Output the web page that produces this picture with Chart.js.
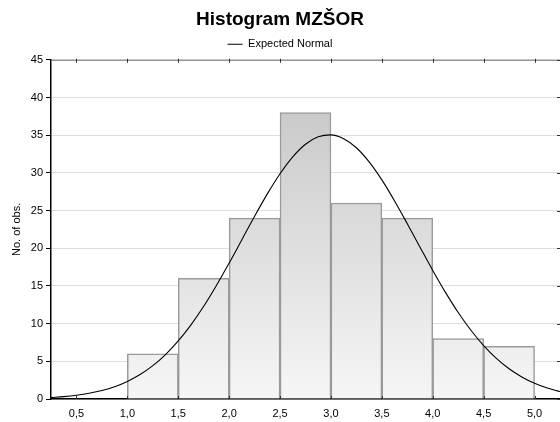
<!DOCTYPE html>
<html>
<head>
<meta charset="utf-8">
<script src="https://cdn.jsdelivr.net/npm/chart.js@4.4.1/dist/chart.umd.min.js"></script>
<style>
  html, body { margin: 0; padding: 0; background: #fff; }
  #wrap { width: 560px; height: 422px; }
</style>
</head>
<body>
<div id="wrap"><canvas id="c" width="560" height="422"></canvas></div>
<script>
// Histogram bins (bin centres) and counts
const binCenters = [1.25, 1.75, 2.25, 2.75, 3.25, 3.75, 4.25, 4.75];
const binCounts  = [6, 16, 24, 38, 26, 24, 8, 7];

// Expected Normal curve
const curveX = [0.25, 0.375, 0.5, 0.625, 0.75, 0.875, 1.0, 1.125, 1.25, 1.375, 1.5, 1.625, 1.75, 1.875,
                2.0, 2.125, 2.25, 2.375, 2.5, 2.625, 2.75, 2.875, 3.0, 3.125, 3.25, 3.375, 3.5, 3.625,
                3.75, 3.875, 4.0, 4.125, 4.25, 4.375, 4.5, 4.625, 4.75, 4.875, 5.0, 5.125, 5.25];
const curveY = [0.20, 0.32, 0.50, 0.76, 1.12, 1.63, 2.33, 3.24, 4.42, 5.90, 7.70, 9.84, 12.30, 15.06,
                18.03, 21.13, 24.24, 27.21, 29.88, 32.12, 33.79, 34.78, 35.04, 34.54, 33.33, 31.46, 29.07, 26.28,
                23.25, 20.14, 17.06, 14.15, 11.48, 9.12, 7.08, 5.39, 4.01, 2.92, 2.08, 1.45, 0.99];

// Tick labels
const xTicks = [0.5, 1.0, 1.5, 2.0, 2.5, 3.0, 3.5, 4.0, 4.5, 5.0];
const yTicks = [0, 5, 10, 15, 20, 25, 30, 35, 40, 45];

const titleText = 'Histogram MZŠOR';
const legendText = 'Expected Normal';
const yTitle = 'No. of obs.';

Chart.defaults.font.family = '"Liberation Sans", Arial, sans-serif';
Chart.defaults.color = '#000';

function barGradient(ctx) {
  const chart = ctx.chart;
  const area = chart.chartArea;
  if (!area) return '#e8e8e8';
  const g = chart.ctx.createLinearGradient(0, area.bottom, 0, area.top);
  g.addColorStop(0, '#f6f6f6');
  g.addColorStop(1, '#c2c2c2');
  return g;
}

const framePlugin = {
  id: 'frame',
  afterDraw(chart) {
    const {ctx, chartArea: a, scales} = chart;
    ctx.save();
    ctx.strokeStyle = '#7a7a7a';
    ctx.lineWidth = 1;
    ctx.beginPath();
    ctx.moveTo(a.left, a.top + 0.5);
    ctx.lineTo(a.right, a.top + 0.5);
    ctx.stroke();
    ctx.strokeStyle = '#333';
    ctx.beginPath();
    xTicks.forEach(v => {
      const px = Math.round(scales.x.getPixelForValue(v)) + 0.5;
      ctx.moveTo(px, a.top - 1);
      ctx.lineTo(px, a.top + 3);
      ctx.moveTo(px, a.bottom - 3);
      ctx.lineTo(px, a.bottom);
    });
    yTicks.forEach(v => {
      const py = Math.round(scales.y.getPixelForValue(v)) + 0.5;
      ctx.moveTo(a.right - 3, py);
      ctx.lineTo(a.right, py);
    });
    ctx.stroke();
    ctx.restore();
  }
};

new Chart(document.getElementById('c'), {
  type: 'bar',
  data: {
    datasets: [
      {
        type: 'line',
        label: legendText,
        data: curveX.map((x, i) => ({x: x, y: curveY[i]})),
        borderColor: '#000',
        borderWidth: 1.1,
        pointRadius: 0,
        cubicInterpolationMode: 'monotone',
        fill: false,
        order: 0
      },
      {
        type: 'bar',
        label: 'bins',
        data: binCenters.map((x, i) => ({x: x, y: binCounts[i]})),
        backgroundColor: barGradient,
        borderColor: '#9a9a9a',
        borderWidth: 1.5,
        barPercentage: 1,
        categoryPercentage: 1,
        order: 1
      }
    ]
  },
  options: {
    responsive: false,
    animation: false,
    devicePixelRatio: 1,
    layout: { padding: { left: 0, right: 0, top: 0, bottom: 0 } },
    plugins: {
      title: {
        display: true,
        text: titleText,
        font: { size: 19, weight: 'bold' },
        color: '#000',
        padding: { top: 8, bottom: 0 }
      },
      legend: {
        display: true,
        labels: {
          filter: item => item.text === legendText,
          usePointStyle: true,
          pointStyle: 'line',
          pointStyleWidth: 15,
          boxHeight: 1,
          font: { size: 11 },
          color: '#000',
          padding: 8
        }
      },
      tooltip: { enabled: false }
    },
    scales: {
      x: {
        type: 'linear',
        min: 0.25,
        max: 5.25,
        offset: false,
        afterBuildTicks: s => { s.ticks = xTicks.map(v => ({value: v})); },
        ticks: {
          callback: v => v.toFixed(1).replace('.', ','),
          font: { size: 11 },
          color: '#000',
          maxRotation: 0,
          autoSkip: false,
          padding: 8
        },
        grid: { display: false, drawTicks: false },
        border: { display: true, color: '#000', width: 1.5 },
        afterFit: s => { s.height = 23; }
      },
      y: {
        type: 'linear',
        min: 0,
        max: 45,
        afterBuildTicks: s => { s.ticks = yTicks.map(v => ({value: v})); },
        ticks: { font: { size: 11 }, color: '#000', padding: 3 },
        grid: { color: '#dedede', lineWidth: 1, drawTicks: true, tickLength: 5, tickColor: '#000' },
        border: { display: true, color: '#000', width: 1.5 },
        title: { display: true, text: yTitle, font: { size: 11 }, color: '#000', padding: { top: 10, bottom: 0 } },
        afterFit: s => { s.width = 51; }
      }
    }
  },
  plugins: [framePlugin]
});
</script>
</body>
</html>
